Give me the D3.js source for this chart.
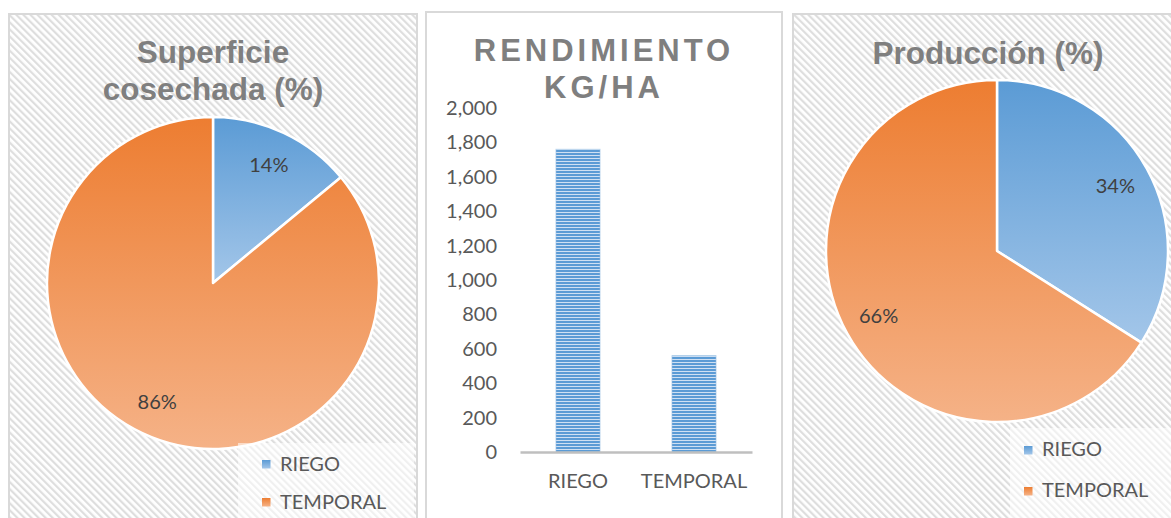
<!DOCTYPE html>
<html><head><meta charset="utf-8">
<script src="https://cdn.jsdelivr.net/npm/d3@7"></script>
<style>
html,body{margin:0;padding:0;background:#fff;overflow:hidden}
svg{display:block}
</style></head>
<body>
<svg id="c" width="1171" height="518"></svg>
<script>
// ---- data ----
const categories = ["RIEGO", "TEMPORAL"];
const superficieValues = [14, 86];
const produccionValues = [34, 66];
const rendimientoValues = [1760, 560];
const yTickValues = [0, 200, 400, 600, 800, 1000, 1200, 1400, 1600, 1800, 2000];
const titleSuperficie = ["Superficie", "cosechada (%)"];
const titleRendimiento = ["RENDIMIENTO", "KG/HA"];
const titleProduccion = ["Producción (%)"];

const svg = d3.select("#c");
const defs = svg.append("defs");

// hatch pattern
const hatch = defs.append("pattern").attr("id","hatch").attr("patternUnits","userSpaceOnUse")
  .attr("width",5).attr("height",5).attr("patternTransform","rotate(-45)");
hatch.append("rect").attr("width",5).attr("height",5).attr("fill","#ffffff");
hatch.append("rect").attr("width",2.2).attr("height",5).attr("fill","#dedede");

// bar stripe pattern
const bp = defs.append("pattern").attr("id","barpat").attr("patternUnits","userSpaceOnUse")
  .attr("width",10).attr("height",3);
bp.append("rect").attr("width",10).attr("height",3).attr("fill","#cfe0f3");
bp.append("rect").attr("width",10).attr("height",2).attr("fill","#5b9bd5");

// gradients
const colors = {
  RIEGO: ["#5b9bd5", "#a3c6e9"],
  TEMPORAL: ["#ed7d31", "#f5b287"]
};
categories.forEach(c => {
  const g = defs.append("linearGradient").attr("id","g_"+c).attr("x1",0).attr("y1",0).attr("x2",0).attr("y2",1);
  g.append("stop").attr("offset","0%").attr("stop-color",colors[c][0]);
  g.append("stop").attr("offset","100%").attr("stop-color",colors[c][1]);
});

const titleFont = "'Liberation Sans', Arial, sans-serif";
const bodyFont = "Lato, 'Open Sans', sans-serif";

// ---- panels ----
function panel(x, y, w, h, fill){
  svg.append("rect").attr("x",x).attr("y",y).attr("width",w).attr("height",h)
    .attr("fill",fill).attr("stroke","#d9d9d9").attr("stroke-width",2);
}
panel(9, 14, 408, 520, "url(#hatch)");
panel(426, 12, 356, 520, "#ffffff");
panel(793, 14, 390, 520, "url(#hatch)");

// ---- pie drawing ----
function drawPie(values, cx, cy, r, titleLines, titleY, titleX, legend){
  const g = svg.append("g").attr("transform",`translate(${cx},${cy})`);
  const pie = d3.pie().sort(null).value(d => d.v);
  const data = pie(values.map((v,i) => ({v, c: categories[i]})));
  const arc = d3.arc().innerRadius(0).outerRadius(r);
  g.selectAll("path.slice").data(data).enter().append("path")
    .attr("class","slice")
    .attr("d", arc)
    .attr("fill", d => `url(#g_${d.data.c})`)
    .attr("stroke","#ffffff").attr("stroke-width",2.5).attr("stroke-linejoin","round");
  const labelArc = d3.arc().innerRadius(r*0.79).outerRadius(r*0.79);
  g.selectAll("text.lbl").data(data).enter().append("text")
    .attr("class","lbl")
    .attr("transform", d => `translate(${labelArc.centroid(d)})`)
    .attr("text-anchor","middle").attr("dy","0.36em")
    .attr("font-family",bodyFont).attr("font-size",20).attr("fill","#404040")
    .text(d => d.data.v + "%");
  // title
  titleLines.forEach((t,i) => {
    svg.append("text").attr("x",titleX).attr("y",titleY[i])
      .attr("text-anchor","middle").attr("font-family",titleFont)
      .attr("font-weight","bold").attr("font-size",31.5).attr("fill","#7f7f7f")
      .text(t);
  });
  // legend
  svg.append("rect").attr("x",legend.bx).attr("y",legend.by).attr("width",legend.bw).attr("height",legend.bh)
    .attr("fill","#ffffff").attr("opacity",0.55);
  categories.forEach((c,i) => {
    svg.append("rect").attr("x",legend.x).attr("y",legend.sy[i]).attr("width",8.5).attr("height",8.5)
      .attr("fill",`url(#g_${c})`);
    svg.append("text").attr("x",legend.x+18).attr("y",legend.ty[i])
      .attr("font-family",bodyFont).attr("font-size",20).attr("fill","#595959").text(c);
  });
}

drawPie(superficieValues, 213, 283, 166, titleSuperficie, [63,100], 213,
  {bx:238, by:443, bw:176, bh:80, x:262, sy:[460,498], ty:[471,509]});
drawPie(produccionValues, 997, 251, 171, titleProduccion, [64], 988,
  {bx:1010, by:428, bw:165, bh:95, x:1024, sy:[446,487], ty:[456,497]});

// ---- bar chart ----
const y = d3.scaleLinear().domain([0,2000]).range([452,108]);
const x = d3.scaleBand().domain(categories).range([520,752]).paddingInner(0.62).paddingOuter(0.31);

const ls = 4;
titleRendimiento.forEach((t,i) => {
  svg.append("text").attr("x",602 + ls/2).attr("y",[61,98][i])
    .attr("text-anchor","middle").attr("font-family",titleFont)
    .attr("font-weight","bold").attr("font-size",31).attr("fill","#7f7f7f")
    .attr("letter-spacing",ls).text(t);
});

const yAxis = svg.append("g").attr("transform","translate(497,0)")
  .call(d3.axisLeft(y).tickValues(yTickValues).tickSize(0).tickPadding(0).tickFormat(d3.format(",")));
yAxis.select(".domain").remove();
yAxis.selectAll("text").attr("font-family",bodyFont).attr("font-size",20).attr("fill","#595959");

svg.append("g").selectAll("rect").data(rendimientoValues).enter().append("rect")
  .attr("x",(d,i)=>x(categories[i])).attr("width",x.bandwidth())
  .attr("y",d=>y(d)).attr("height",d=>y(0)-y(d))
  .attr("fill","url(#barpat)").attr("stroke","#9dc3e6").attr("stroke-opacity",0.6).attr("stroke-width",1);

const xAxis = svg.append("g").attr("transform","translate(0,452)")
  .call(d3.axisBottom(x).tickSize(0).tickPadding(22));
xAxis.select(".domain").attr("stroke","#bfbfbf").attr("stroke-width",2.5);
xAxis.selectAll("text").attr("font-family",bodyFont).attr("font-size",20).attr("fill","#595959");
</script>
</body></html>
